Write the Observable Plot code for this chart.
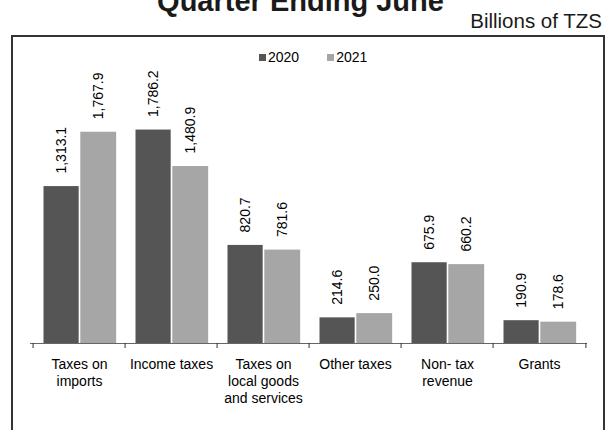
<!DOCTYPE html>
<html>
<head>
<meta charset="utf-8">
<script src="https://cdn.jsdelivr.net/npm/d3@7"></script>
<script src="https://cdn.jsdelivr.net/npm/@observablehq/plot@0.6"></script>
<style>
  body { margin: 0; background: #fff; font-family: "Liberation Sans", Arial, sans-serif; }
  #wrap { position: relative; width: 606px; height: 430px; overflow: hidden; background: #fff; }
  #title { position: absolute; left: 0; width: 601px; top: -13.5px; text-align: center; font-weight: bold;
           font-size: 29px; line-height: 29px; color: #1a1a1a; white-space: nowrap; }
  #sub { position: absolute; right: 4px; top: 11px; font-size: 20.5px; line-height: 20.5px; color: #1a1a1a; white-space: nowrap; }
  #box { position: absolute; left: 11px; top: 35px; width: 590px; height: 470px; border: 2px solid #333; }
  #legend { position: absolute; left: 259px; top: 50px; height: 14px; display: flex; align-items: center;
            font-size: 14px; line-height: 14px; color: #000; }
  #legend .sw { width: 7px; height: 7px; margin-right: 2px; }
  #legend .it { display: flex; align-items: center; margin-right: 28px; }
  #chart { position: absolute; left: 0; top: 0; }
</style>
</head>
<body>
<div id="wrap">
  <div id="title">Quarter Ending June</div>
  <div id="sub">Billions of TZS</div>
  <div id="box"></div>
  <div id="legend"></div>
  <div id="chart"></div>
</div>
<script>
const categories = ["Taxes on imports", "Income taxes", "Taxes on local goods and services", "Other taxes", "Non-tax revenue", "Grants"];
const tickLabels = ["Taxes on\nimports", "Income taxes", "Taxes on\nlocal goods\nand services", "Other taxes", "Non- tax\nrevenue", "Grants"];
const series = ["2020", "2021"];
const values2020 = [1313.1, 1786.2, 820.7, 214.6, 675.9, 190.9];
const values2021 = [1767.9, 1480.9, 781.6, 250.0, 660.2, 178.6];
const seriesColors = ["#555555", "#a6a6a6"];

const rows2020 = categories.map((c, i) => ({category: c, series: series[0], value: values2020[i]}));
const rows2021 = categories.map((c, i) => ({category: c, series: series[1], value: values2021[i]}));
const fmt = d3.format(",.1f");

// legend
const legend = document.getElementById("legend");
series.forEach((s, i) => {
  const it = document.createElement("div");
  it.className = "it";
  const sw = document.createElement("div");
  sw.className = "sw";
  sw.style.background = seriesColors[i];
  const t = document.createElement("span");
  t.textContent = s;
  it.appendChild(sw); it.appendChild(t);
  legend.appendChild(it);
});

const W = 606, H = 430, mL = 30, mR = 19, mT = 104, mB = 87;
const step = (W - mL - mR) / categories.length;
const b1 = [10.5, 46.5], b2 = [47.3, 84];

const chart = Plot.plot({
  width: W, height: H,
  marginLeft: mL, marginRight: mR, marginTop: mT, marginBottom: mB,
  style: {background: "transparent", fontFamily: "'Liberation Sans', Arial, sans-serif", fontSize: "14px", color: "#000", overflow: "visible"},
  x: {domain: categories, padding: 0},
  y: {domain: [0, 2000], axis: null},
  marks: [
    Plot.barY(rows2020, {x: "category", y: "value", fill: seriesColors[0], insetLeft: b1[0], insetRight: step - b1[1]}),
    Plot.barY(rows2021, {x: "category", y: "value", fill: seriesColors[1], insetLeft: b2[0], insetRight: step - b2[1]}),
    Plot.text(rows2020, {x: "category", y: "value", text: d => fmt(d.value), rotate: -90, textAnchor: "start", lineAnchor: "middle",
      dx: (b1[0] + b1[1]) / 2 - step / 2, dy: -13, fontSize: 14, fill: "#000"}),
    Plot.text(rows2021, {x: "category", y: "value", text: d => fmt(d.value), rotate: -90, textAnchor: "start", lineAnchor: "middle",
      dx: (b2[0] + b2[1]) / 2 - step / 2, dy: -13, fontSize: 14, fill: "#000"}),
    Plot.ruleY([0], {stroke: "#666", strokeWidth: 1}),
    Plot.axisX({tickSize: 5, tickFormat: () => "", dx: -step / 2, label: null, stroke: "#333"}),
    Plot.axisX({ticks: [categories[categories.length - 1]], tickSize: 5, tickFormat: () => "", dx: step / 2, label: null, stroke: "#333"}),
    Plot.axisX({tickSize: 0, tickPadding: 13, label: null, fontSize: 14, lineHeight: 17 / 14,
      tickFormat: d => tickLabels[categories.indexOf(d)]})
  ]
});
document.getElementById("chart").appendChild(chart);
</script>
</body>
</html>
